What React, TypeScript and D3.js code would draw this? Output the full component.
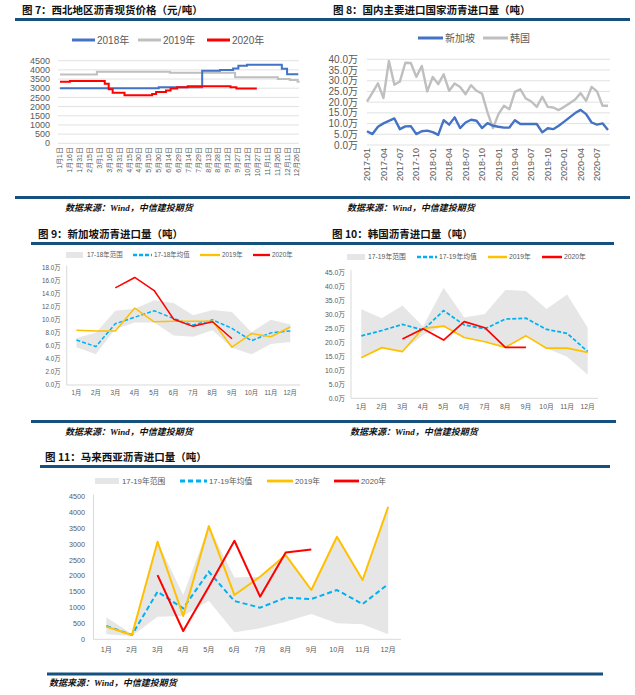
import React, { useEffect, useRef } from 'react';
import * as d3 from 'd3';

const RULE = '#15507f';
const LABEL = '#595959';
const GRID = '#d9d9d9';
const SANS = 'Liberation Sans, "Noto Sans CJK SC", sans-serif';
const CJK = '"Noto Sans CJK SC", sans-serif';

// 图7 西北地区沥青现货价格: [日序号, 价格] 拐点
const dayTicks = ['1月1日', '1月16日', '1月31日', '2月15日', '3月1日', '3月16日', '3月31日', '4月15日', '4月30日',
  '5月15日', '5月30日', '6月14日', '6月29日', '7月14日', '7月29日', '8月13日', '8月28日', '9月12日', '9月27日',
  '10月12日', '10月27日', '11月11日', '11月26日', '12月11日', '12月26日'];
const price2018: [number, number][] = [[0, 3000], [150, 3050], [216, 3950], [243, 4000], [263, 4070], [271, 4230],
  [284, 4280], [337, 4060], [345, 3760], [362, 3760]];
const price2019: [number, number][] = [[0, 3750], [56, 3900], [167, 3850], [266, 3600], [331, 3500], [349, 3450],
  [361, 3350], [364, 3350]];
const price2020: [number, number][] = [[0, 3350], [15, 3400], [68, 3250], [74, 2950], [80, 2750], [98, 2620],
  [140, 2680], [146, 2800], [161, 2880], [168, 2980], [178, 3050], [194, 3110], [259, 3050], [268, 2980], [299, 2980]];

// 图8 国内主要进口国家沥青进口量 (万吨), 2017-01 ~ 2020-09
const importMonths: string[] = [];
for (let yr = 2017; yr <= 2020; yr++) {
  for (let m = 1; m <= 12; m++) {
    if (yr === 2020 && m > 9) break;
    importMonths.push(`${yr}-${String(m).padStart(2, '0')}`);
  }
}
const importTicks = ['2017-01', '2017-04', '2017-07', '2017-10', '2018-01', '2018-04', '2018-07', '2018-10',
  '2019-01', '2019-04', '2019-07', '2019-10', '2020-01', '2020-04', '2020-07'];
const singapore = [6.4, 5.1, 8.5, 10.1, 11.3, 12.4, 7.4, 8.7, 8.8, 5.1, 6.4, 6.7, 6.0, 4.7, 11.6, 9.5, 12.9, 7.9,
  10.5, 11.8, 11.3, 7.9, 10.2, 9.0, 8.5, 8.1, 8.2, 11.6, 9.8, 9.8, 9.8, 9.8, 5.9, 7.8, 7.4, 9.0, 10.9, 12.9, 14.9,
  16.4, 14.4, 10.5, 9.5, 10.1, 7.0];
const korea = [20.3, 24.5, 28.8, 21.9, 39.2, 28.1, 29.6, 38.4, 38.3, 31.8, 36.9, 25.0, 31.8, 28.4, 33.0, 25.3, 28.7,
  27.1, 23.7, 27.9, 25.3, 24.0, 15.2, 7.9, 14.4, 18.3, 16.7, 24.8, 26.0, 21.7, 20.3, 17.8, 22.5, 17.8, 17.5, 16.3,
  17.8, 19.5, 21.2, 24.2, 20.6, 27.1, 25.0, 18.3, 18.3];

const months = ['1月', '2月', '3月', '4月', '5月', '6月', '7月', '8月', '9月', '10月', '11月', '12月'];

// 图9 新加坡 (万吨)
const sgUpper = [7.2, 8.0, 11.4, 11.7, 13.0, 12.6, 10.7, 11.5, 11.2, 8.1, 10.0, 9.3];
const sgLower = [5.8, 4.7, 8.6, 9.6, 9.6, 7.6, 7.4, 8.4, 5.7, 4.7, 6.3, 6.6];
const sgMean = [6.9, 5.9, 9.4, 10.4, 11.4, 10.2, 9.2, 10.0, 8.7, 6.8, 8.0, 8.3];
const sg2019 = [8.4, 8.3, 8.3, 11.8, 9.7, 9.8, 9.8, 9.8, 5.8, 7.9, 7.4, 8.9];
const sg2020 = [null, null, 14.9, 16.5, 14.5, 10.1, 9.0, 9.7, 7.1, null, null, null];

// 图10 韩国 (万吨)
const krUpper = [31.8, 28.6, 33.1, 25.6, 39.5, 28.9, 30.1, 38.7, 38.3, 31.9, 37.1, 25.2];
const krLower = [14.5, 18.1, 16.7, 22.6, 25.8, 21.7, 20.2, 18.2, 22.3, 17.9, 14.8, 8.4];
const krMean = [22.3, 24.2, 26.4, 24.4, 31.3, 26.2, 24.8, 28.3, 28.6, 24.6, 23.2, 16.7];
const kr2019 = [14.5, 18.1, 16.7, 25.0, 25.8, 21.7, 20.2, 18.2, 22.3, 17.9, 17.9, 16.4];
const kr2020 = [null, null, 21.2, 24.8, 20.8, 27.4, 25.2, 18.2, 18.2, null, null, null];

// 图11 马来西亚 (吨)
const myUpper = [693, 168, 3078, 1400, 3571, 1953, 1975, 2658, 1555, 3235, 1870, 4181];
const myLower = [158, 105, 714, 735, 1218, 220, 347, 557, 798, 504, 473, 158];
const myMean = [420, 137, 1502, 977, 2132, 1208, 998, 1313, 1271, 1555, 1113, 1744];
const my2019 = [400, 137, 3078, 735, 3571, 1397, 1975, 2658, 1555, 3235, 1870, 4181];
const my2020 = [null, null, 2027, 263, 1660, 3109, 1345, 2742, 2836, null, null, null];

type G = d3.Selection<SVGGElement, unknown, null, undefined>;

function rule(g: G, x1: number, x2: number, y: number) {
  g.append('line').attr('x1', x1).attr('x2', x2).attr('y1', y).attr('y2', y)
    .attr('stroke', RULE).attr('stroke-width', 3);
}

function title(g: G, x: number, y: number, text: string) {
  g.append('text').attr('x', x).attr('y', y).attr('dy', '0.35em')
    .style('font-family', CJK).style('font-size', '10.5px').style('font-weight', 'bold')
    .attr('fill', '#111').text(text);
}

function source(g: G, x: number, y: number) {
  g.append('text').attr('x', x).attr('y', y).attr('dy', '0.35em')
    .style('font-family', '"Liberation Serif", "Noto Sans CJK SC", serif').style('font-size', '9px')
    .style('font-style', 'italic').style('font-weight', 'bold').attr('fill', '#111')
    .text('数据来源：Wind，中信建投期货');
}

interface MonthlyOpts {
  x0: number; x1: number; yBottom: number; yTop: number; max: number; step: number;
  fmt: (v: number) => string; font: number; labelX: number; monthY: number;
  upper: number[]; lower: number[]; mean: number[]; s2019: number[]; s2020: (number | null)[];
  lw: number; dash: string; legendY: number; legendFont: number; rangeLabel: string; meanLabel: string;
  legendX: number[];
}

function monthly(g: G, o: MonthlyOpts) {
  const x = d3.scaleBand<string>().domain(months).range([o.x0, o.x1]);
  const cx = (i: number) => (x(months[i]) as number) + x.bandwidth() / 2;
  const y = d3.scaleLinear().domain([0, o.max]).range([o.yBottom, o.yTop]);

  g.append('line').attr('x1', o.x0).attr('x2', o.x0).attr('y1', o.yTop - 2).attr('y2', o.yBottom)
    .attr('stroke', GRID);
  g.append('line').attr('x1', o.x0).attr('x2', o.x1).attr('y1', o.yBottom).attr('y2', o.yBottom)
    .attr('stroke', GRID);

  g.selectAll(null).data(d3.range(0, o.max + o.step / 2, o.step)).join('text')
    .attr('x', o.labelX).attr('y', d => y(d)).attr('dy', '0.35em').attr('text-anchor', 'end')
    .style('font-family', SANS).style('font-size', `${o.font}px`).attr('fill', LABEL)
    .text(d => o.fmt(d));

  g.selectAll(null).data(months).join('text')
    .attr('x', (_d, i) => cx(i)).attr('y', o.monthY).attr('dy', '0.35em').attr('text-anchor', 'middle')
    .style('font-family', SANS).style('font-size', `${o.font}px`).attr('fill', LABEL)
    .text(d => d);

  const band = d3.area<number>().x((_d, i) => cx(i)).y0((_d, i) => y(o.lower[i])).y1(d => y(d));
  g.append('path').datum(o.upper).attr('d', band).attr('fill', '#e6e6e6');

  const line = d3.line<number | null>().defined(d => d !== null).x((_d, i) => cx(i)).y(d => y(d as number));
  g.append('path').datum(o.mean).attr('d', line).attr('fill', 'none').attr('stroke', '#00b0f0')
    .attr('stroke-width', o.lw).attr('stroke-dasharray', o.dash);
  g.append('path').datum(o.s2019).attr('d', line).attr('fill', 'none').attr('stroke', '#ffc000')
    .attr('stroke-width', o.lw).attr('stroke-linejoin', 'round');
  g.append('path').datum(o.s2020).attr('d', line).attr('fill', 'none').attr('stroke', '#ff0000')
    .attr('stroke-width', o.lw).attr('stroke-linejoin', 'round');

  // legend
  const ly = o.legendY;
  const lx = o.legendX;
  const lf = `${o.legendFont}px`;
  const items = [
    { label: o.rangeLabel, kind: 'band' },
    { label: o.meanLabel, kind: 'mean' },
    { label: '2019年', kind: '2019' },
    { label: '2020年', kind: '2020' },
  ];
  items.forEach((it, i) => {
    const a = lx[i * 3], b = lx[i * 3 + 1], t = lx[i * 3 + 2];
    if (it.kind === 'band') {
      g.append('rect').attr('x', a).attr('y', ly - 3).attr('width', b - a).attr('height', 6).attr('fill', '#e6e6e6');
    } else {
      g.append('line').attr('x1', a).attr('x2', b).attr('y1', ly).attr('y2', ly)
        .attr('stroke', it.kind === 'mean' ? '#00b0f0' : it.kind === '2019' ? '#ffc000' : '#ff0000')
        .attr('stroke-width', o.lw + 0.8).attr('stroke-dasharray', it.kind === 'mean' ? o.dash : null);
    }
    g.append('text').attr('x', t).attr('y', ly).attr('dy', '0.35em')
      .style('font-family', SANS).style('font-size', lf).attr('fill', LABEL).text(it.label);
  });
}

const App: React.FC = () => {
  const svgRef = useRef<SVGSVGElement>(null);

  useEffect(() => {
    if (!svgRef.current) return;
    const svg = d3.select(svgRef.current);
    svg.selectAll('*').remove();
    const root = svg.append('g') as unknown as G;

    // frame: titles, rules, sources
    title(root, 22, 10, '图 7：西北地区沥青现货价格（元/吨）');
    title(root, 333, 10, '图 8：国内主要进口国家沥青进口量（吨）');
    rule(root, 15, 630, 19.5);
    rule(root, 15, 630, 197.5);
    source(root, 65, 208);
    source(root, 347, 208);
    title(root, 38, 234, '图 9：新加坡沥青进口量（吨）');
    title(root, 332, 234, '图 10：韩国沥青进口量（吨）');
    rule(root, 31, 614, 243.5);
    rule(root, 31, 616, 421.5);
    source(root, 65, 432);
    source(root, 350, 432);
    title(root, 45, 457, '图 11：马来西亚沥青进口量（吨）');
    rule(root, 40, 610, 466.5);
    rule(root, 47, 603, 674);
    source(root, 49, 683);

    // ---------- 图7 ----------
    const g7 = root.append('g');
    const x7 = d3.scaleLinear().domain([0, 364]).range([60, 299.6]);
    const y7 = d3.scaleLinear().domain([0, 4500]).range([143.3, 60.7]);
    g7.selectAll(null).data(y7.ticks(9)).join('line')
      .attr('x1', 58).attr('x2', 299).attr('y1', d => y7(d)).attr('y2', d => y7(d))
      .attr('stroke', GRID).attr('stroke-width', 0.8);
    g7.selectAll(null).data(y7.ticks(9)).join('text')
      .attr('x', 50).attr('y', d => y7(d)).attr('dy', '0.35em').attr('text-anchor', 'end')
      .style('font-family', SANS).style('font-size', '9px').attr('fill', LABEL).text(d => d);
    g7.selectAll(null).data(dayTicks).join('text')
      .attr('transform', (_d, i) => `translate(${x7(i * 15)},147) rotate(-90)`)
      .attr('dy', '0.35em').attr('text-anchor', 'end')
      .style('font-family', SANS).style('font-size', '7px').attr('fill', LABEL).text(d => d);
    const step = d3.line<[number, number]>().x(d => x7(d[0])).y(d => y7(d[1])).curve(d3.curveStepAfter);
    const s7 = [
      { data: price2019, color: '#bfbfbf', label: '2019年' },
      { data: price2018, color: '#4472c4', label: '2018年' },
      { data: price2020, color: '#ff0000', label: '2020年' },
    ];
    s7.forEach(s => {
      g7.append('path').datum(s.data).attr('d', step).attr('fill', 'none')
        .attr('stroke', s.color).attr('stroke-width', 2);
    });
    const leg7 = [
      { x: 72, color: '#4472c4', label: '2018年' },
      { x: 138, color: '#bfbfbf', label: '2019年' },
      { x: 207, color: '#ff0000', label: '2020年' },
    ];
    leg7.forEach(l => {
      g7.append('line').attr('x1', l.x).attr('x2', l.x + 23).attr('y1', 40).attr('y2', 40)
        .attr('stroke', l.color).attr('stroke-width', 3);
      g7.append('text').attr('x', l.x + 25).attr('y', 40).attr('dy', '0.35em')
        .style('font-family', SANS).style('font-size', '10px').attr('fill', LABEL).text(l.label);
    });

    // ---------- 图8 ----------
    const g8 = root.append('g');
    const x8 = d3.scalePoint<string>().domain(importMonths).range([367, 608]);
    const y8 = d3.scaleLinear().domain([0, 40]).range([145, 59.3]);
    g8.selectAll(null).data(y8.ticks(8)).join('line')
      .attr('x1', 367).attr('x2', 610).attr('y1', d => y8(d)).attr('y2', d => y8(d))
      .attr('stroke', GRID).attr('stroke-width', 0.8);
    g8.selectAll(null).data(y8.ticks(8)).join('text')
      .attr('x', 358).attr('y', d => y8(d)).attr('dy', '0.35em').attr('text-anchor', 'end')
      .style('font-family', SANS).style('font-size', '10px').attr('fill', LABEL)
      .text(d => `${d3.format('.1f')(d)}万`);
    g8.selectAll(null).data(importTicks).join('text')
      .attr('transform', d => `translate(${x8(d)},148) rotate(-90)`)
      .attr('dy', '0.35em').attr('text-anchor', 'end')
      .style('font-family', SANS).style('font-size', '9px').attr('fill', LABEL).text(d => d);
    const line8 = d3.line<number>().x((_d, i) => x8(importMonths[i]) as number).y(d => y8(d));
    g8.append('path').datum(korea).attr('d', line8).attr('fill', 'none')
      .attr('stroke', '#bfbfbf').attr('stroke-width', 2.4).attr('stroke-linejoin', 'round');
    g8.append('path').datum(singapore).attr('d', line8).attr('fill', 'none')
      .attr('stroke', '#4472c4').attr('stroke-width', 2.4).attr('stroke-linejoin', 'round');
    const leg8 = [
      { x: 418, color: '#4472c4', label: '新加坡' },
      { x: 483, color: '#bfbfbf', label: '韩国' },
    ];
    leg8.forEach(l => {
      g8.append('line').attr('x1', l.x).attr('x2', l.x + 25).attr('y1', 38).attr('y2', 38)
        .attr('stroke', l.color).attr('stroke-width', 3);
      g8.append('text').attr('x', l.x + 27).attr('y', 38).attr('dy', '0.35em')
        .style('font-family', SANS).style('font-size', '10px').attr('fill', LABEL).text(l.label);
    });

    // ---------- 图9 ----------
    monthly(root.append('g'), {
      x0: 66.7, x1: 300, yBottom: 385, yTop: 267.7, max: 18, step: 2,
      fmt: d => `${d3.format('.1f')(d)}万`, font: 6.3, labelX: 60.5, monthY: 393,
      upper: sgUpper, lower: sgLower, mean: sgMean, s2019: sg2019, s2020: sg2020,
      lw: 1.5, dash: '4,2', legendY: 255, legendFont: 6.4,
      rangeLabel: '17-18年范围', meanLabel: '17-18年均值',
      legendX: [66, 83, 87, 133, 152, 154, 200, 220, 222, 253, 270, 272],
    });

    // ---------- 图10 ----------
    monthly(root.append('g'), {
      x0: 351, x1: 598, yBottom: 398.3, yTop: 272.3, max: 45, step: 5,
      fmt: d => `${d3.format('.1f')(d)}万`, font: 6.8, labelX: 345, monthY: 407,
      upper: krUpper, lower: krLower, mean: krMean, s2019: kr2019, s2020: kr2020,
      lw: 1.7, dash: '4,2', legendY: 257, legendFont: 6.8,
      rangeLabel: '17-19年范围', meanLabel: '17-19年均值',
      legendX: [347, 365, 368, 417, 437, 439, 488, 507, 509, 542, 562, 564],
    });

    // ---------- 图11 ----------
    monthly(root.append('g'), {
      x0: 93.5, x1: 401, yBottom: 639.3, yTop: 496.7, max: 4500, step: 500,
      fmt: d => `${d}`, font: 7.2, labelX: 85, monthY: 649,
      upper: myUpper, lower: myLower, mean: myMean, s2019: my2019, s2020: my2020,
      lw: 2, dash: '5,3', legendY: 481, legendFont: 7.8,
      rangeLabel: '17-19年范围', meanLabel: '17-19年均值',
      legendX: [95, 119, 122, 180, 207, 209, 267, 293, 295, 334, 359, 361],
    });
  }, []);

  return (
    <svg ref={svgRef} width={635} height={695}
      style={{ position: 'absolute', left: 0, top: 0, background: '#fff' }}></svg>
  );
};

export default App;
